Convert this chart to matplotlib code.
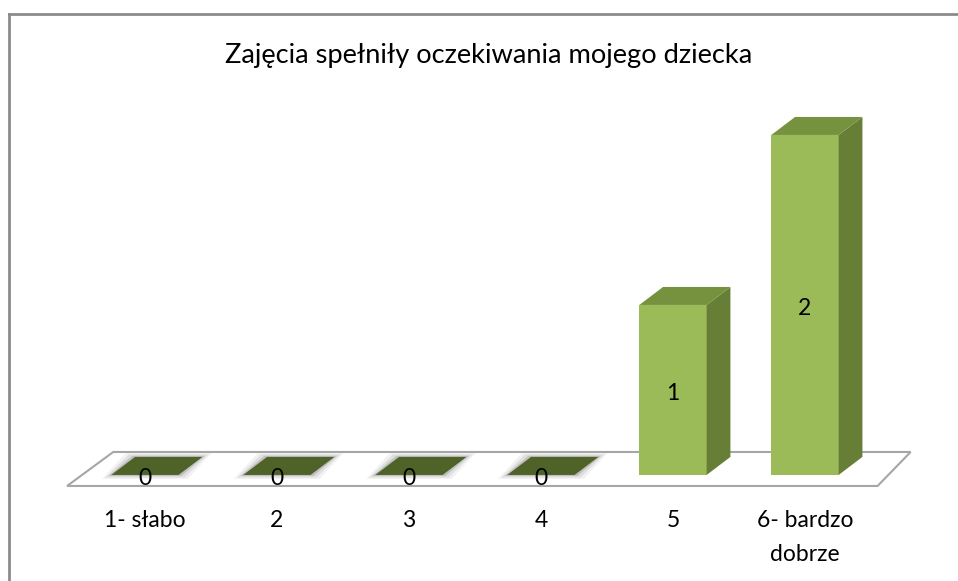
import matplotlib.pyplot as plt
from matplotlib.patches import Polygon

# data
categories = ['1- słabo', '2', '3', '4', '5', '6- bardzo\ndobrze']
values = [0, 0, 0, 0, 1, 2]
title = 'Zajęcia spełniły oczekiwania mojego dziecka'

# colors
front_col = '#9bbb59'
side_col = '#677e37'
top_col = '#77923e'
flat_col = '#4f6228'

plt.rcParams['font.family'] = ['Lato', 'DejaVu Sans']

fig = plt.figure(figsize=(9.58, 5.81), dpi=100)
ax = fig.add_axes([0, 0, 1, 1])
ax.set_xlim(-1.098, 6.159)
ax.set_ylim(-0.624, 2.794)
ax.axis('off')

# frame (only top and left visible)
fig.add_artist(plt.Line2D([9/958, 1], [1-14/581]*2, color='#8c8c8c', lw=2))
fig.add_artist(plt.Line2D([9/958]*2, [0, 1-14/581], color='#8c8c8c', lw=2))

w = 0.51     # bar width
dx = 0.18    # depth in x
dy = 0.106   # depth in y
n = len(categories)

# floor
floor = Polygon([(-0.59, -0.065), (n - 0.45, -0.065), (n - 0.2, 0.135), (-0.24, 0.135)],
                closed=True, facecolor='white', edgecolor='#a6a6a6', lw=1.5, zorder=1)
ax.add_patch(floor)

for i, v in enumerate(values):
    x0 = i - w/2
    x1 = i + w/2
    if v == 0:
        # flat bar with soft shadow
        for k, a in [(0.07, 0.05), (0.045, 0.08), (0.02, 0.14)]:
            ax.add_patch(Polygon([(x0 - k, -k/3), (x1 + k, -k/3), (x1 + dx + k, dy + k/3), (x0 + dx - k, dy + k/3)],
                                 closed=True, facecolor='#000000', alpha=a, lw=0, zorder=2))
        ax.add_patch(Polygon([(x0, 0), (x1, 0), (x1 + dx, dy), (x0 + dx, dy)],
                             closed=True, facecolor=flat_col, lw=0, zorder=3))
        ax.text(i, -0.02, '0', ha='center', va='center', fontsize=16.5, zorder=5)
    else:
        ax.bar(i, v, width=w, color=front_col, zorder=4)
        ax.add_patch(Polygon([(x1, 0), (x1 + dx, dy), (x1 + dx, v + dy), (x1, v)],
                             closed=True, facecolor=side_col, lw=0, zorder=4))
        ax.add_patch(Polygon([(x0, v), (x1, v), (x1 + dx, v + dy), (x0 + dx, v + dy)],
                             closed=True, facecolor=top_col, lw=0, zorder=4))
        ax.text(i, v/2 - 0.02, str(v), ha='center', va='center', fontsize=16.5, zorder=5)

for i, c in enumerate(categories):
    ax.text(i, -0.205, c, ha='center', va='top', fontsize=16.5, linespacing=1.75)

fig.text(0.51, 1 - 56/581, title, ha='center', va='center', fontsize=19.6)

fig.savefig('out.png', dpi=100)
